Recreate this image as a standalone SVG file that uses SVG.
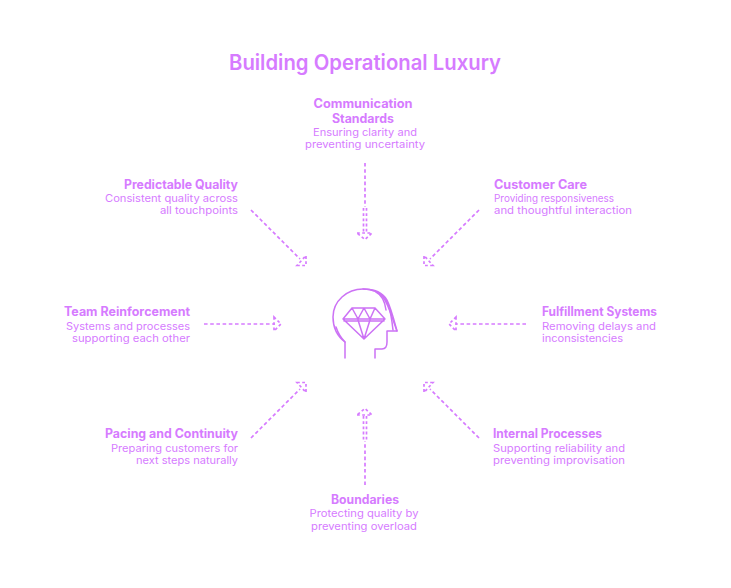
<svg xmlns="http://www.w3.org/2000/svg" width="731" height="588" viewBox="0 0 731 588">
<style>
text{font-family:"Inter","Open Sans","Liberation Sans",sans-serif;fill:#d67bff}
.h{font-size:12.5px;font-weight:700}
.b{font-size:10.5px;font-weight:400}
.t{font-size:21px;font-weight:600}
.m{text-anchor:middle}.e{text-anchor:end}
.c{fill:none;stroke:#d67bff;stroke-width:1.7;stroke-dasharray:3.6 2.6}
.a{fill:none;stroke:#d67bff;stroke-width:1.7;stroke-dasharray:2.8 2.4}
.i{fill:none;stroke:#cc72f5;stroke-width:1.5;stroke-linejoin:round;stroke-linecap:round}
</style>
<rect width="731" height="588" fill="#fff"/>
<text id="title" class="t m" x="365" y="70" textLength="272" lengthAdjust="spacingAndGlyphs">Building Operational Luxury</text>
<g id="connectors">
<path class="c" d="M365 163V207"/><path class="a" d="M363.500 208V232M366.500 208V232M357 233H372L365 239.500Z"/>
<path class="c" d="M251 210L300 259"/><path class="a" d="M297 265.500H306V255.500Z"/>
<path class="c" d="M479 210L430 259"/><path class="a" d="M433 265.500H424V255.500Z"/>
<path class="c" d="M204 324H275"/><path class="a" d="M274 317V331L281 324Z"/>
<path class="c" d="M526 324H456"/><path class="a" d="M456 317V331L449 324Z"/>
<path class="c" d="M251 438L300 389"/><path class="a" d="M297 382.500H306V392.500Z"/>
<path class="c" d="M479 438L430 389"/><path class="a" d="M433 382.500H424V392.500Z"/>
<path class="c" d="M365 485V441"/><path class="a" d="M363.500 416V440M366.500 416V440M357 415H372L365 408.500Z"/>
</g>
<g id="center-icon" class="i">
<path d="M345 358V342C337 336 333 327 333 317C333 301 347 289 363 289C372 289 378 291 383 297C389 305 392 318 397 331H387V342C387 347 385 349 382 349H375V358"/>
<path d="M336 327C338 333 341 338 345 342M363 289C376 289 383 293 387 300C391 308 394 320 397 331M371 290C380 291 385 297 388 304C391 312 392 321 393 330M376 292C382 295 385 302 386 310"/>
<path d="M352 308H375L385 319L364 339L343 319ZM343 319H385M344 321H384M352 308L358 319L364 308L370 319L375 308M358 320L364 339L370 320"/>
</g>
<g id="n-communication"><text class="h m" x="363" y="108" textLength="99" lengthAdjust="spacingAndGlyphs">Communication</text><text class="h m" x="363" y="123" textLength="62" lengthAdjust="spacingAndGlyphs">Standards</text><text class="b m" x="365" y="136" textLength="104" lengthAdjust="spacingAndGlyphs">Ensuring clarity and</text><text class="b m" x="365" y="148" textLength="120" lengthAdjust="spacingAndGlyphs">preventing uncertainty</text></g>
<g id="n-predictable"><text class="h e" x="238" y="189" textLength="114" lengthAdjust="spacingAndGlyphs">Predictable Quality</text><text class="b e" x="238" y="202" textLength="133" lengthAdjust="spacingAndGlyphs">Consistent quality across</text><text class="b e" x="238" y="214" textLength="78" lengthAdjust="spacingAndGlyphs">all touchpoints</text></g>
<g id="n-customer"><text class="h" x="494" y="189" textLength="93" lengthAdjust="spacingAndGlyphs">Customer Care</text><text class="b" x="494" y="202" textLength="120" lengthAdjust="spacingAndGlyphs">Providing responsiveness</text><text class="b" x="494" y="214" textLength="138" lengthAdjust="spacingAndGlyphs">and thoughtful interaction</text></g>
<g id="n-team"><text class="h e" x="190" y="316" textLength="126" lengthAdjust="spacingAndGlyphs">Team Reinforcement</text><text class="b e" x="190" y="330" textLength="124" lengthAdjust="spacingAndGlyphs">Systems and processes</text><text class="b e" x="190" y="342" textLength="118" lengthAdjust="spacingAndGlyphs">supporting each other</text></g>
<g id="n-fulfillment"><text class="h" x="542" y="316" textLength="115" lengthAdjust="spacingAndGlyphs">Fulfillment Systems</text><text class="b" x="542" y="330" textLength="114" lengthAdjust="spacingAndGlyphs">Removing delays and</text><text class="b" x="542" y="342" textLength="81" lengthAdjust="spacingAndGlyphs">inconsistencies</text></g>
<g id="n-pacing"><text class="h e" x="238" y="438" textLength="133" lengthAdjust="spacingAndGlyphs">Pacing and Continuity</text><text class="b e" x="238" y="452" textLength="127" lengthAdjust="spacingAndGlyphs">Preparing customers for</text><text class="b e" x="238" y="464" textLength="102" lengthAdjust="spacingAndGlyphs">next steps naturally</text></g>
<g id="n-internal"><text class="h" x="493" y="438" textLength="109" lengthAdjust="spacingAndGlyphs">Internal Processes</text><text class="b" x="493" y="452" textLength="132" lengthAdjust="spacingAndGlyphs">Supporting reliability and</text><text class="b" x="493" y="464" textLength="132" lengthAdjust="spacingAndGlyphs">preventing improvisation</text></g>
<g id="n-boundaries"><text class="h m" x="365" y="504" textLength="68" lengthAdjust="spacingAndGlyphs">Boundaries</text><text class="b m" x="364" y="517" textLength="109" lengthAdjust="spacingAndGlyphs">Protecting quality by</text><text class="b m" x="364" y="530" textLength="106" lengthAdjust="spacingAndGlyphs">preventing overload</text></g>
</svg>
